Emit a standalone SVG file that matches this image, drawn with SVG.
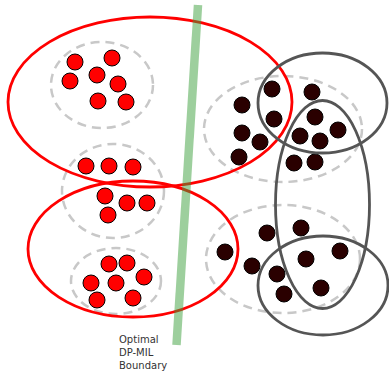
<svg xmlns="http://www.w3.org/2000/svg" width="389" height="375" viewBox="0 0 389 375">
<style>
.bag{fill:none;stroke:#c8c8c8;stroke-width:2.5;stroke-dasharray:9 6}
.red{fill:none;stroke:#ff0000;stroke-width:2.8}
.gray{fill:none;stroke:#555555;stroke-width:2.8}
.pos{fill:#ff0000;stroke:#000;stroke-width:1}
.neg{fill:#2a0000;stroke:#000;stroke-width:1}
.lbl{font-family:"DejaVu Sans",Verdana,sans-serif;font-size:10px;fill:#333}
</style>
<rect width="389" height="375" fill="#fff"/>
<g id="bags">
<ellipse class="bag" cx="102" cy="85" rx="51" ry="43"/>
<ellipse class="bag" cx="113" cy="191" rx="51" ry="47"/>
<ellipse class="bag" cx="116" cy="281" rx="45" ry="33"/>
<ellipse class="bag" cx="283" cy="129" rx="79" ry="53"/>
<ellipse class="bag" cx="283" cy="259" rx="77" ry="54"/>
</g>
<g id="positive-instances">
<circle class="pos" cx="75" cy="62" r="8"/>
<circle class="pos" cx="112" cy="58" r="8"/>
<circle class="pos" cx="70" cy="81" r="8"/>
<circle class="pos" cx="97" cy="75" r="8"/>
<circle class="pos" cx="118" cy="84" r="8"/>
<circle class="pos" cx="98" cy="101" r="8"/>
<circle class="pos" cx="126" cy="102" r="8"/>
<circle class="pos" cx="86" cy="166" r="8"/>
<circle class="pos" cx="109" cy="166" r="8"/>
<circle class="pos" cx="133" cy="167" r="8"/>
<circle class="pos" cx="105" cy="196" r="8"/>
<circle class="pos" cx="127" cy="203" r="8"/>
<circle class="pos" cx="147" cy="203" r="8"/>
<circle class="pos" cx="108" cy="215" r="8"/>
<circle class="pos" cx="109" cy="264" r="8"/>
<circle class="pos" cx="127" cy="263" r="8"/>
<circle class="pos" cx="91" cy="283" r="8"/>
<circle class="pos" cx="116" cy="283" r="8"/>
<circle class="pos" cx="144" cy="277" r="8"/>
<circle class="pos" cx="97" cy="300" r="8"/>
<circle class="pos" cx="133" cy="298" r="8"/>
</g>
<g id="negative-instances">
<circle class="neg" cx="272" cy="89" r="8"/>
<circle class="neg" cx="312" cy="92" r="8"/>
<circle class="neg" cx="242" cy="105" r="8"/>
<circle class="neg" cx="274" cy="119" r="8"/>
<circle class="neg" cx="315" cy="117" r="8"/>
<circle class="neg" cx="338" cy="130" r="8"/>
<circle class="neg" cx="242" cy="133" r="8"/>
<circle class="neg" cx="260" cy="142" r="8"/>
<circle class="neg" cx="300" cy="136" r="8"/>
<circle class="neg" cx="320" cy="141" r="8"/>
<circle class="neg" cx="239" cy="157" r="8"/>
<circle class="neg" cx="294" cy="163" r="8"/>
<circle class="neg" cx="315" cy="162" r="8"/>
<circle class="neg" cx="225" cy="252" r="8"/>
<circle class="neg" cx="267" cy="233" r="8"/>
<circle class="neg" cx="301" cy="228" r="8"/>
<circle class="neg" cx="252" cy="266" r="8"/>
<circle class="neg" cx="277" cy="274" r="8"/>
<circle class="neg" cx="306" cy="259" r="8"/>
<circle class="neg" cx="340" cy="251" r="8"/>
<circle class="neg" cx="284" cy="294" r="8"/>
<circle class="neg" cx="321" cy="288" r="8"/>
</g>
<g id="red-regions">
<ellipse class="red" cx="150" cy="102" rx="142" ry="85"/>
<ellipse class="red" cx="133" cy="249" rx="105" ry="68"/>
</g>
<g id="gray-regions">
<ellipse class="gray" cx="322.5" cy="103" rx="64.5" ry="50"/>
<ellipse class="gray" cx="322.5" cy="204.5" rx="47" ry="104"/>
<ellipse class="gray" cx="323" cy="285.5" rx="65" ry="49.5"/>
</g>
<g id="boundary">
<line x1="198" y1="5" x2="176.5" y2="345" stroke="rgb(60,160,60)" stroke-opacity="0.5" stroke-width="8.5"/>
<text class="lbl" x="119" y="343">Optimal</text>
<text class="lbl" x="119" y="356">DP-MIL</text>
<text class="lbl" x="119" y="369">Boundary</text>
</g>
</svg>
